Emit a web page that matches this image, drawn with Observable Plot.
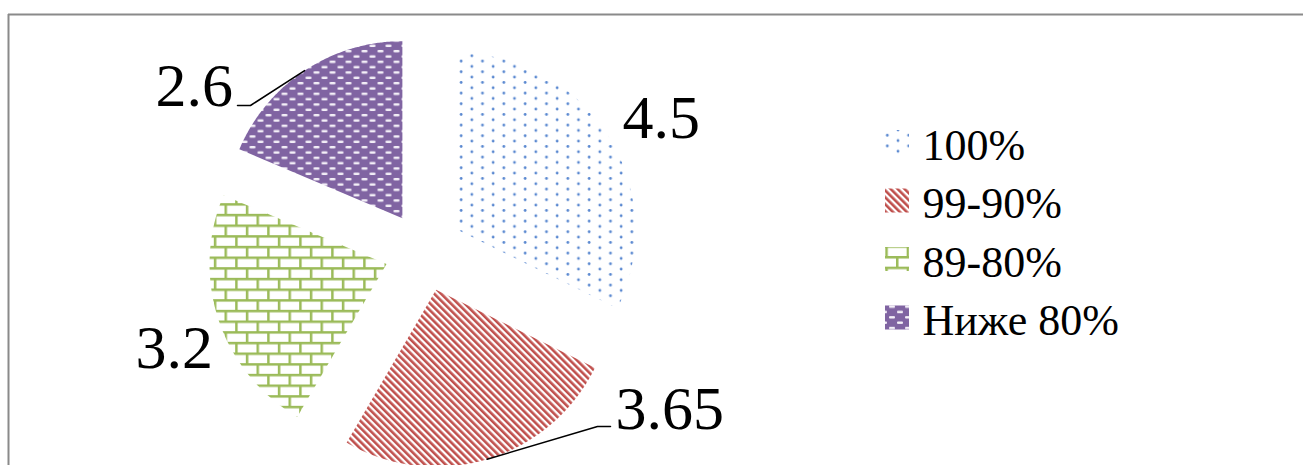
<!DOCTYPE html>
<html>
<head>
<meta charset="utf-8">
<script src="https://cdn.jsdelivr.net/npm/d3@7"></script>
<script src="https://cdn.jsdelivr.net/npm/@observablehq/plot@0.6"></script>
<style>
  html, body { margin: 0; padding: 0; background: #fff; }
  svg { display: block; }
</style>
</head>
<body>
<div id="chart"></div>
<script>
// ---- data ----
const categories = ["100%", "99-90%", "89-80%", "Ниже 80%"];
const values = [4.5, 3.65, 3.2, 2.6];
const valueLabels = ["4.5", "3.65", "3.2", "2.6"];

// ---- layout (pixels) ----
const W = 1303, H = 465;
const center = [424, 251];
const radius = 177;
const explode = 40;
const patternIds = ["pDots", "pStripes", "pBricks", "pConfetti"];
const labelPos = [[622, 137], [615, 428], [135, 367], [155, 105]]; // text start x, baseline y
const leaders = [
  {slice: 1, elbow: [597, 426], end: [610, 426]},
  {slice: 3, elbow: [250, 105], end: [237, 105]}
];
const legendX = 885, legendSize = 24, legendTextX = 922, legendBase0 = 159, legendStep = 58.5;
const serif = "'Liberation Serif', 'Times New Roman', serif";

// ---- geometry from data ----
const arcs = d3.pie().sort(null)(values);
const slices = arcs.map((a, i) => {
  const mid = (a.startAngle + a.endAngle) / 2;
  const ax = center[0] + explode * Math.sin(mid);
  const ay = center[1] - explode * Math.cos(mid);
  const pts = [[ax, ay]];
  const n = 160;
  for (let k = 0; k <= n; k++) {
    const t = a.startAngle + (a.endAngle - a.startAngle) * k / n;
    pts.push([ax + radius * Math.sin(t), ay - radius * Math.cos(t)]);
  }
  const edge = [ax + radius * Math.sin(mid), ay - radius * Math.cos(mid)];
  return {i, pts, edge};
});

const leaderLines = leaders.map(l => [slices[l.slice].edge, l.elbow, l.end]);

const marks = [];
// frame lines (top and left, as in the reference crop)
marks.push(Plot.ruleY([14], {x1: () => 8, x2: () => W, stroke: "#8a8a8a", strokeWidth: 2}));
marks.push(Plot.ruleX([8], {y1: () => 14, y2: () => H, stroke: "#8a8a8a", strokeWidth: 2}));

// slices
for (const s of slices) {
  marks.push(Plot.line(s.pts, {
    x: d => d[0], y: d => d[1],
    fill: () => `url(#${patternIds[s.i]})`,
    stroke: "none", curve: "linear"
  }));
}
// leader lines
for (const ln of leaderLines) {
  marks.push(Plot.line(ln, {x: d => d[0], y: d => d[1], stroke: "#000", strokeWidth: 1.5}));
}
// value labels
marks.push(Plot.text(valueLabels, {
  x: (d, i) => labelPos[i][0], y: (d, i) => labelPos[i][1], text: d => d,
  textAnchor: "start", lineAnchor: "bottom", fontSize: 62, fontFamily: serif, fill: "#000"
}));
// legend
marks.push(Plot.rect(categories, {
  x1: () => legendX, x2: () => legendX + legendSize,
  y1: (d, i) => legendBase0 + i * legendStep - 17 - legendSize / 2,
  y2: (d, i) => legendBase0 + i * legendStep - 17 + legendSize / 2,
  fill: (d, i) => `url(#${patternIds[i]})`
}));
marks.push(Plot.text(categories, {
  x: () => legendTextX, y: (d, i) => legendBase0 + i * legendStep, text: d => d,
  textAnchor: "start", lineAnchor: "bottom", fontSize: 44, fontFamily: serif, fill: "#000"
}));

const svg = Plot.plot({
  width: W, height: H,
  margin: 0,
  x: {domain: [0, W], range: [0, W], axis: null},
  y: {domain: [0, H], range: [0, H], axis: null},
  color: {type: "identity"},
  style: {background: "#fff", overflow: "hidden"},
  marks
});

// patterns
const defs = d3.select(svg).insert("defs", ":first-child");
// dotted (blue)
const p0 = defs.append("pattern").attr("id", "pDots").attr("patternUnits", "userSpaceOnUse")
  .attr("width", 21.333).attr("height", 10.667);
p0.append("rect").attr("width", 21.333).attr("height", 10.667).attr("fill", "#fff");
p0.append("circle").attr("cx", 2).attr("cy", 2).attr("r", 1.4).attr("fill", "#5887d0");
p0.append("circle").attr("cx", 12.667).attr("cy", 7.333).attr("r", 1.4).attr("fill", "#5887d0");
// diagonal stripes (red)
const p1 = defs.append("pattern").attr("id", "pStripes").attr("patternUnits", "userSpaceOnUse")
  .attr("width", 4.9).attr("height", 10).attr("patternTransform", "rotate(-45)");
p1.append("rect").attr("width", 4.9).attr("height", 10).attr("fill", "#fff");
p1.append("rect").attr("width", 2.6).attr("height", 10).attr("fill", "#c0504d");
// bricks (green)
const p2 = defs.append("pattern").attr("id", "pBricks").attr("patternUnits", "userSpaceOnUse")
  .attr("width", 21.333).attr("height", 21.333);
p2.append("rect").attr("width", 21.333).attr("height", 21.333).attr("fill", "#fff");
p2.append("rect").attr("x", 0).attr("y", 0).attr("width", 21.333).attr("height", 2.5).attr("fill", "#9bbb59");
p2.append("rect").attr("x", 0).attr("y", 10.667).attr("width", 21.333).attr("height", 2.5).attr("fill", "#9bbb59");
p2.append("rect").attr("x", 0).attr("y", 0).attr("width", 2.5).attr("height", 10.667).attr("fill", "#9bbb59");
p2.append("rect").attr("x", 10.667).attr("y", 10.667).attr("width", 2.5).attr("height", 10.667).attr("fill", "#9bbb59");
// confetti dashes (purple)
const p3 = defs.append("pattern").attr("id", "pConfetti").attr("patternUnits", "userSpaceOnUse")
  .attr("width", 16).attr("height", 10.667);
p3.append("rect").attr("width", 16).attr("height", 10.667).attr("fill", "#8064a2");
p3.append("rect").attr("x", 1).attr("y", 1.4).attr("width", 6).attr("height", 2.6).attr("rx", 1).attr("fill", "#f4f0f8");
p3.append("rect").attr("x", 9).attr("y", 6.7).attr("width", 6).attr("height", 2.6).attr("rx", 1).attr("fill", "#f4f0f8");

document.getElementById("chart").appendChild(svg);
</script>
</body>
</html>
